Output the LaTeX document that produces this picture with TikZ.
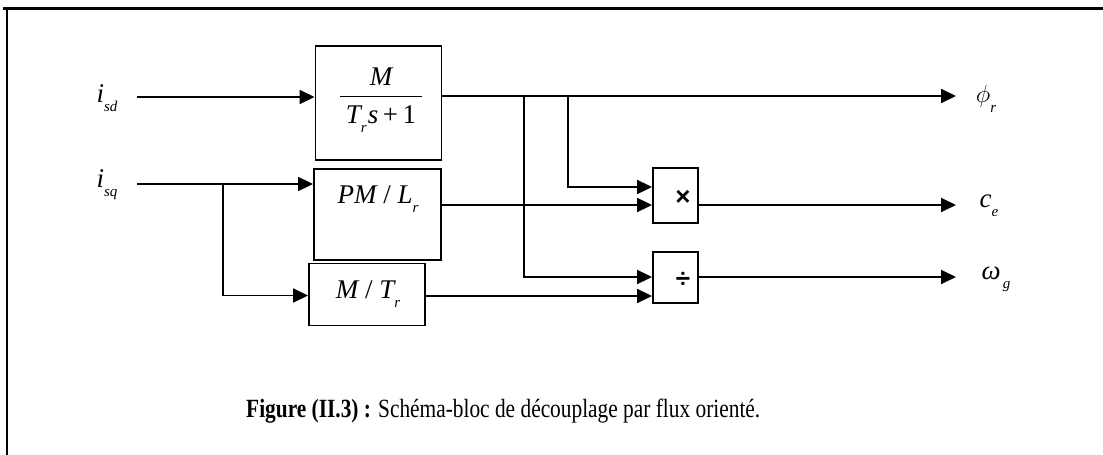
\documentclass[tikz,border=0pt]{standalone}
\usepackage{fontspec}
\setmainfont{Liberation Serif}
\newfontfamily\opsans{Liberation Sans}
\usetikzlibrary{arrows.meta}
\newcommand{\mi}[1]{{\itshape #1}}
\newcommand{\sbx}[1]{\raisebox{-0.33em}{\fontsize{15}{15}\selectfont\itshape #1}}
\tikzset{
  blk/.style={draw, line width=1.9pt, inner sep=0pt, fill=white},
  wire/.style={line width=1.8pt},
  arr/.style={wire, -{Triangle[length=15pt, width=14pt]}},
  mtext/.style={inner sep=0pt, font=\fontsize{27}{27}\selectfont},
}
\begin{document}
\begin{tikzpicture}[x=1pt, y=-1pt]
\useasboundingbox (0,0) rectangle (1103,455);
% frame
\draw[line width=3pt] (3,8) -- (1103,8);
\draw[line width=2pt] (7,8) -- (7,455);

% blocks
\node[blk, minimum width=126pt, minimum height=114pt] (b1) at (378.5,103) {};
\node[blk, minimum width=127pt, minimum height=91pt] (b2) at (377.5,214.5) {};
\node[blk, minimum width=116pt, minimum height=62pt] (b3) at (367,294.5) {};
\node[blk, minimum width=45pt, minimum height=55pt] (mul) at (675.5,195.5) {};
\node[blk, minimum width=45pt, minimum height=51pt] (dv) at (675.5,277.5) {};

% block texts
\node[mtext] (b1num) at (381,77) {\mi{M}};
\draw[line width=0.9pt] (340,96) -- (422,96);
\node[mtext] (b1den) at (381,119) {\mi{T}\sbx{r}\hspace{1pt}\mi{s}\,+\,1};
\node[mtext] (b2t) at (378,199) {\mi{PM} / \mi{L}\sbx{r}};
\node[mtext] (b3t) at (368,294) {\mi{M} / \mi{T}\sbx{r}};
\node[inner sep=0pt, font=\opsans\bfseries\fontsize{26}{26}\selectfont] (mx) at (683,198) {×};
\node[inner sep=0pt, font=\opsans\bfseries\fontsize{26}{26}\selectfont] (dx) at (683,280) {÷};

% signal labels
\node[mtext] (isd) at (107,98) {\mi{i}\sbx{sd}};
\node[mtext] (isq) at (107,185) {\mi{i}\sbx{sq}};
\node[mtext] (phi) at (986,99) {\fontsize{29}{29}\selectfont$\phi$\sbx{r}};
\node[mtext] (ce) at (989,206) {\mi{c}\sbx{e}};
\node[mtext] (wg) at (996,279) {\mi{ω}\hspace{2pt}\sbx{g}};

% coordinates
\coordinate (isd0) at (137,97);
\coordinate (isq0) at (137,184);
\coordinate (jq) at (223,184);
\coordinate (o1) at (956,96);
\coordinate (o2) at (956,205);
\coordinate (o3) at (956,277);
\coordinate (j1) at (524,96);
\coordinate (j2) at (568,96);

% connectors
\draw[arr] (isd0) -- (b1.west |- isd0);
\draw[arr] (isq0) -- (b2.west |- isq0);
\draw[arr] (jq) |- (b3.west |- 0,295.5);
\draw[arr] (b1.east |- o1) -- (o1);
\draw[arr] (j2) |- (mul.west |- 0,187);
\draw[arr] (j1) |- (dv.west |- 0,277);
\draw[arr] (b2.east |- 0,205) -- (mul.west |- 0,205);
\draw[arr] (b3.east |- 0,296) -- (dv.west |- 0,296);
\draw[arr] (mul.east |- o2) -- (o2);
\draw[arr] (dv.east |- o3) -- (o3);

% caption
\node[anchor=base west, inner sep=0pt] (cap) at (246,417)
  {\resizebox{514pt}{18.5pt}{\fontsize{22}{22}\selectfont\textbf{Figure (II.3) :} Schéma-bloc de découplage par flux orienté.}};
\end{tikzpicture}
\end{document}
